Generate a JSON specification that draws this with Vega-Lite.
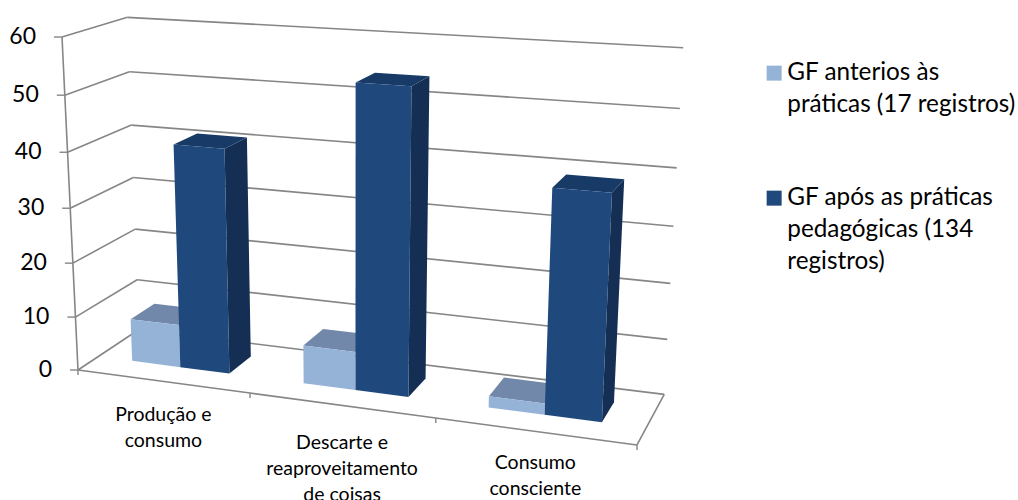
{
  "$schema": "https://vega.github.io/schema/vega-lite/v6.json",
  "width": 1018,
  "height": 500,
  "padding": 0,
  "autosize": {"type": "none"},
  "background": "white",
  "config": {"view": {"stroke": null}},
  "datasets": {
    "barras": [
      {"categoria": "Produção e\nconsumo", "ordem": 0, "serie": "GF anterios às práticas (17 registros)", "valor": 8},
      {"categoria": "Descarte e\nreaproveitamento\nde coisas", "ordem": 1, "serie": "GF anterios às práticas (17 registros)", "valor": 7},
      {"categoria": "Consumo\nconsciente", "ordem": 2, "serie": "GF anterios às práticas (17 registros)", "valor": 2},
      {"categoria": "Produção e\nconsumo", "ordem": 0, "serie": "GF após as práticas pedagógicas (134 registros)", "valor": 41},
      {"categoria": "Descarte e\nreaproveitamento\nde coisas", "ordem": 1, "serie": "GF após as práticas pedagógicas (134 registros)", "valor": 54},
      {"categoria": "Consumo\nconsciente", "ordem": 2, "serie": "GF após as práticas pedagógicas (134 registros)", "valor": 39}
    ],
    "niveis": [{"nivel": 0}, {"nivel": 10}, {"nivel": 20}, {"nivel": 30}, {"nivel": 40}, {"nivel": 50}, {"nivel": 60}],
    "limites": [{"limite": 0}, {"limite": 1}, {"limite": 2}, {"limite": 3}]
  },
  "encoding": {
    "x": {"field": "sx", "type": "quantitative", "scale": {"domain": [0, 1018], "nice": false, "zero": false}, "axis": null},
    "y": {"field": "sy", "type": "quantitative", "scale": {"domain": [0, 500], "reverse": true, "nice": false, "zero": false}, "axis": null}
  },
  "layer": [
    {
      "data": {"name": "niveis"},
      "transform": [
        {"calculate": "datum.nivel / 60", "as": "h"},
        {"calculate": "1 + 0.07 - 0.055 * datum.h", "as": "w"},
        {"calculate": "(78 + 70.7 - 19.4 * datum.h) / datum.w", "as": "sx"},
        {"calculate": "(370 - 17.4 - 335 * datum.h) / datum.w", "as": "sy"},
        {"calculate": "1 - 0.111 + 0.07 - 0.055 * datum.h", "as": "w2"},
        {"calculate": "(78 + 488.3 + 70.7 - 19.4 * datum.h) / datum.w2", "as": "sx2"},
        {"calculate": "(370 + 25.6 - 17.4 - 335 * datum.h) / datum.w2", "as": "sy2"}
      ],
      "mark": {"type": "rule", "color": "#868686", "strokeWidth": 1.6},
      "encoding": {"x2": {"field": "sx2"}, "y2": {"field": "sy2"}}
    },
    {
      "data": {"name": "niveis"},
      "transform": [
        {"calculate": "datum.nivel / 60", "as": "h"},
        {"calculate": "1 - 0.055 * datum.h", "as": "w"},
        {"calculate": "(78 - 19.4 * datum.h) / datum.w", "as": "sx"},
        {"calculate": "(370 - 335 * datum.h) / datum.w", "as": "sy"},
        {"calculate": "1 + 0.07 - 0.055 * datum.h", "as": "w2"},
        {"calculate": "(78 + 70.7 - 19.4 * datum.h) / datum.w2", "as": "sx2"},
        {"calculate": "(370 - 17.4 - 335 * datum.h) / datum.w2", "as": "sy2"}
      ],
      "layer": [
        {
          "mark": {"type": "rule", "color": "#868686", "strokeWidth": 1.6},
          "encoding": {"x2": {"field": "sx2"}, "y2": {"field": "sy2"}}
        },
        {
          "transform": [{"calculate": "datum.sx - 8", "as": "tickx"}],
          "mark": {"type": "rule", "color": "#868686", "strokeWidth": 1.4},
          "encoding": {"x2": {"field": "tickx"}}
        },
        {
          "mark": {"type": "line", "color": "#868686", "strokeWidth": 1.6},
          "encoding": {"order": {"field": "nivel", "type": "quantitative"}}
        },
        {
          "mark": {"type": "text", "align": "right", "baseline": "middle", "dx": -26, "font": "Lato", "fontSize": 23, "color": "#000000"},
          "encoding": {"text": {"field": "nivel", "type": "quantitative"}}
        }
      ]
    },
    {
      "data": {"name": "limites"},
      "transform": [
        {"calculate": "datum.limite / 3", "as": "u"},
        {"calculate": "1 - 0.111 * datum.u", "as": "w"},
        {"calculate": "(78 + 488.3 * datum.u) / datum.w", "as": "sx"},
        {"calculate": "(370 + 25.6 * datum.u) / datum.w", "as": "sy"}
      ],
      "layer": [
        {
          "mark": {"type": "line", "color": "#868686", "strokeWidth": 1.6},
          "encoding": {"order": {"field": "limite", "type": "quantitative"}}
        },
        {
          "transform": [{"calculate": "datum.sy + 5", "as": "ticky"}],
          "mark": {"type": "rule", "color": "#868686", "strokeWidth": 1.4},
          "encoding": {"y2": {"field": "ticky"}}
        },
        {
          "transform": [
            {"filter": "datum.limite == 3"},
            {"calculate": "(78 + 488.3 + 70.7) / (1 - 0.111 + 0.07)", "as": "sx2"},
            {"calculate": "(370 + 25.6 - 17.4) / (1 - 0.111 + 0.07)", "as": "sy2"}
          ],
          "mark": {"type": "rule", "color": "#868686", "strokeWidth": 1.6},
          "encoding": {"x2": {"field": "sx2"}, "y2": {"field": "sy2"}}
        }
      ]
    },
    {
      "data": {"name": "barras"},
      "transform": [
        {"calculate": "(datum.ordem + 0.5) / 3 - 0.002 - (indexof(datum.serie, 'anterios') >= 0 ? 0.096 : 0)", "as": "u0"},
        {"calculate": "datum.u0 + 0.096", "as": "u1"},
        {"calculate": "datum.valor / 60", "as": "alt"},
        {"calculate": "['top', 'side', 'front']", "as": "face"},
        {"flatten": ["face"]},
        {"calculate": "[0, 1, 2, 3]", "as": "v"},
        {"flatten": ["v"]},
        {"calculate": "datum.face == 'side' ? datum.u1 : ((datum.v == 1 || datum.v == 2) ? datum.u1 : datum.u0)", "as": "u"},
        {"calculate": "datum.face == 'front' ? 0.32 : (datum.face == 'side' ? ((datum.v == 1 || datum.v == 2) ? 0.72 : 0.32) : (datum.v >= 2 ? 0.72 : 0.32))", "as": "d"},
        {"calculate": "datum.face == 'top' ? datum.alt : (datum.v >= 2 ? datum.alt : 0)", "as": "h"},
        {"calculate": "1 - 0.111 * datum.u + 0.07 * datum.d - 0.055 * datum.h", "as": "w"},
        {"calculate": "(78 + 488.3 * datum.u + 70.7 * datum.d - 19.4 * datum.h) / datum.w", "as": "sx"},
        {"calculate": "(370 + 25.6 * datum.u - 17.4 * datum.d - 335 * datum.h) / datum.w", "as": "sy"},
        {"calculate": "datum.serie + datum.ordem + datum.face", "as": "peca"}
      ],
      "layer": [
        {
          "transform": [{"filter": "datum.face == 'top' && indexof(datum.serie, 'anterios') >= 0"}],
          "mark": {"type": "line", "filled": true, "fill": "#7288aa", "strokeWidth": 0, "stroke": null},
          "encoding": {"detail": {"field": "peca"}, "order": {"field": "v", "type": "quantitative"}}
        },
        {
          "transform": [{"filter": "datum.face == 'side' && indexof(datum.serie, 'anterios') < 0"}],
          "mark": {"type": "line", "filled": true, "fill": "#152f54", "strokeWidth": 0, "stroke": null},
          "encoding": {"detail": {"field": "peca"}, "order": {"field": "v", "type": "quantitative"}}
        },
        {
          "transform": [{"filter": "datum.face == 'top' && indexof(datum.serie, 'anterios') < 0"}],
          "mark": {"type": "line", "filled": true, "fill": "#183a66", "strokeWidth": 0, "stroke": null},
          "encoding": {"detail": {"field": "peca"}, "order": {"field": "v", "type": "quantitative"}}
        },
        {
          "transform": [{"filter": "datum.face == 'front'"}],
          "mark": {"type": "line", "filled": true, "strokeWidth": 0},
          "encoding": {
            "detail": {"field": "peca"},
            "order": {"field": "v", "type": "quantitative"},
            "color": {
              "field": "serie",
              "type": "nominal",
              "scale": {
                "domain": ["GF anterios às práticas (17 registros)", "GF após as práticas pedagógicas (134 registros)"],
                "range": ["#95b3d7", "#1f497d"]
              },
              "legend": {
                "title": null,
                "orient": "none",
                "legendX": 762,
                "legendY": 61,
                "padding": 0,
                "symbolType": "square",
                "symbolSize": 225,
                "symbolStrokeWidth": 0,
                "labelFont": "Lato",
                "labelFontSize": 24.3,
                "labelColor": "#000000",
                "labelLimit": 300,
                "labelOffset": 1,
                "labelBaseline": "middle",
                "rowPadding": 68,
                "labelExpr": "indexof(datum.label, 'anterios') >= 0 ? ['GF anterios às', 'práticas (17 registros)'] : ['GF após as práticas', 'pedagógicas (134', 'registros)']",
                "encode": {"labels": {"update": {"lineHeight": {"value": 32}}}}
              }
            }
          }
        }
      ]
    },
    {
      "data": {"name": "barras"},
      "transform": [
        {"filter": "indexof(datum.serie, 'anterios') >= 0"},
        {"calculate": "(datum.ordem + 0.5) / 3", "as": "u"},
        {"calculate": "1 - 0.111 * datum.u", "as": "w"},
        {"calculate": "(78 + 488.3 * datum.u) / datum.w + 1", "as": "sx"},
        {"calculate": "(370 + 25.6 * datum.u) / datum.w + [25, 29, 23][datum.ordem]", "as": "sy"}
      ],
      "mark": {"type": "text", "align": "center", "baseline": "top", "lineBreak": "\n", "lineHeight": 26, "font": "Lato", "fontSize": 19.5, "color": "#000000"},
      "encoding": {"text": {"field": "categoria", "type": "nominal"}}
    }
  ]
}
